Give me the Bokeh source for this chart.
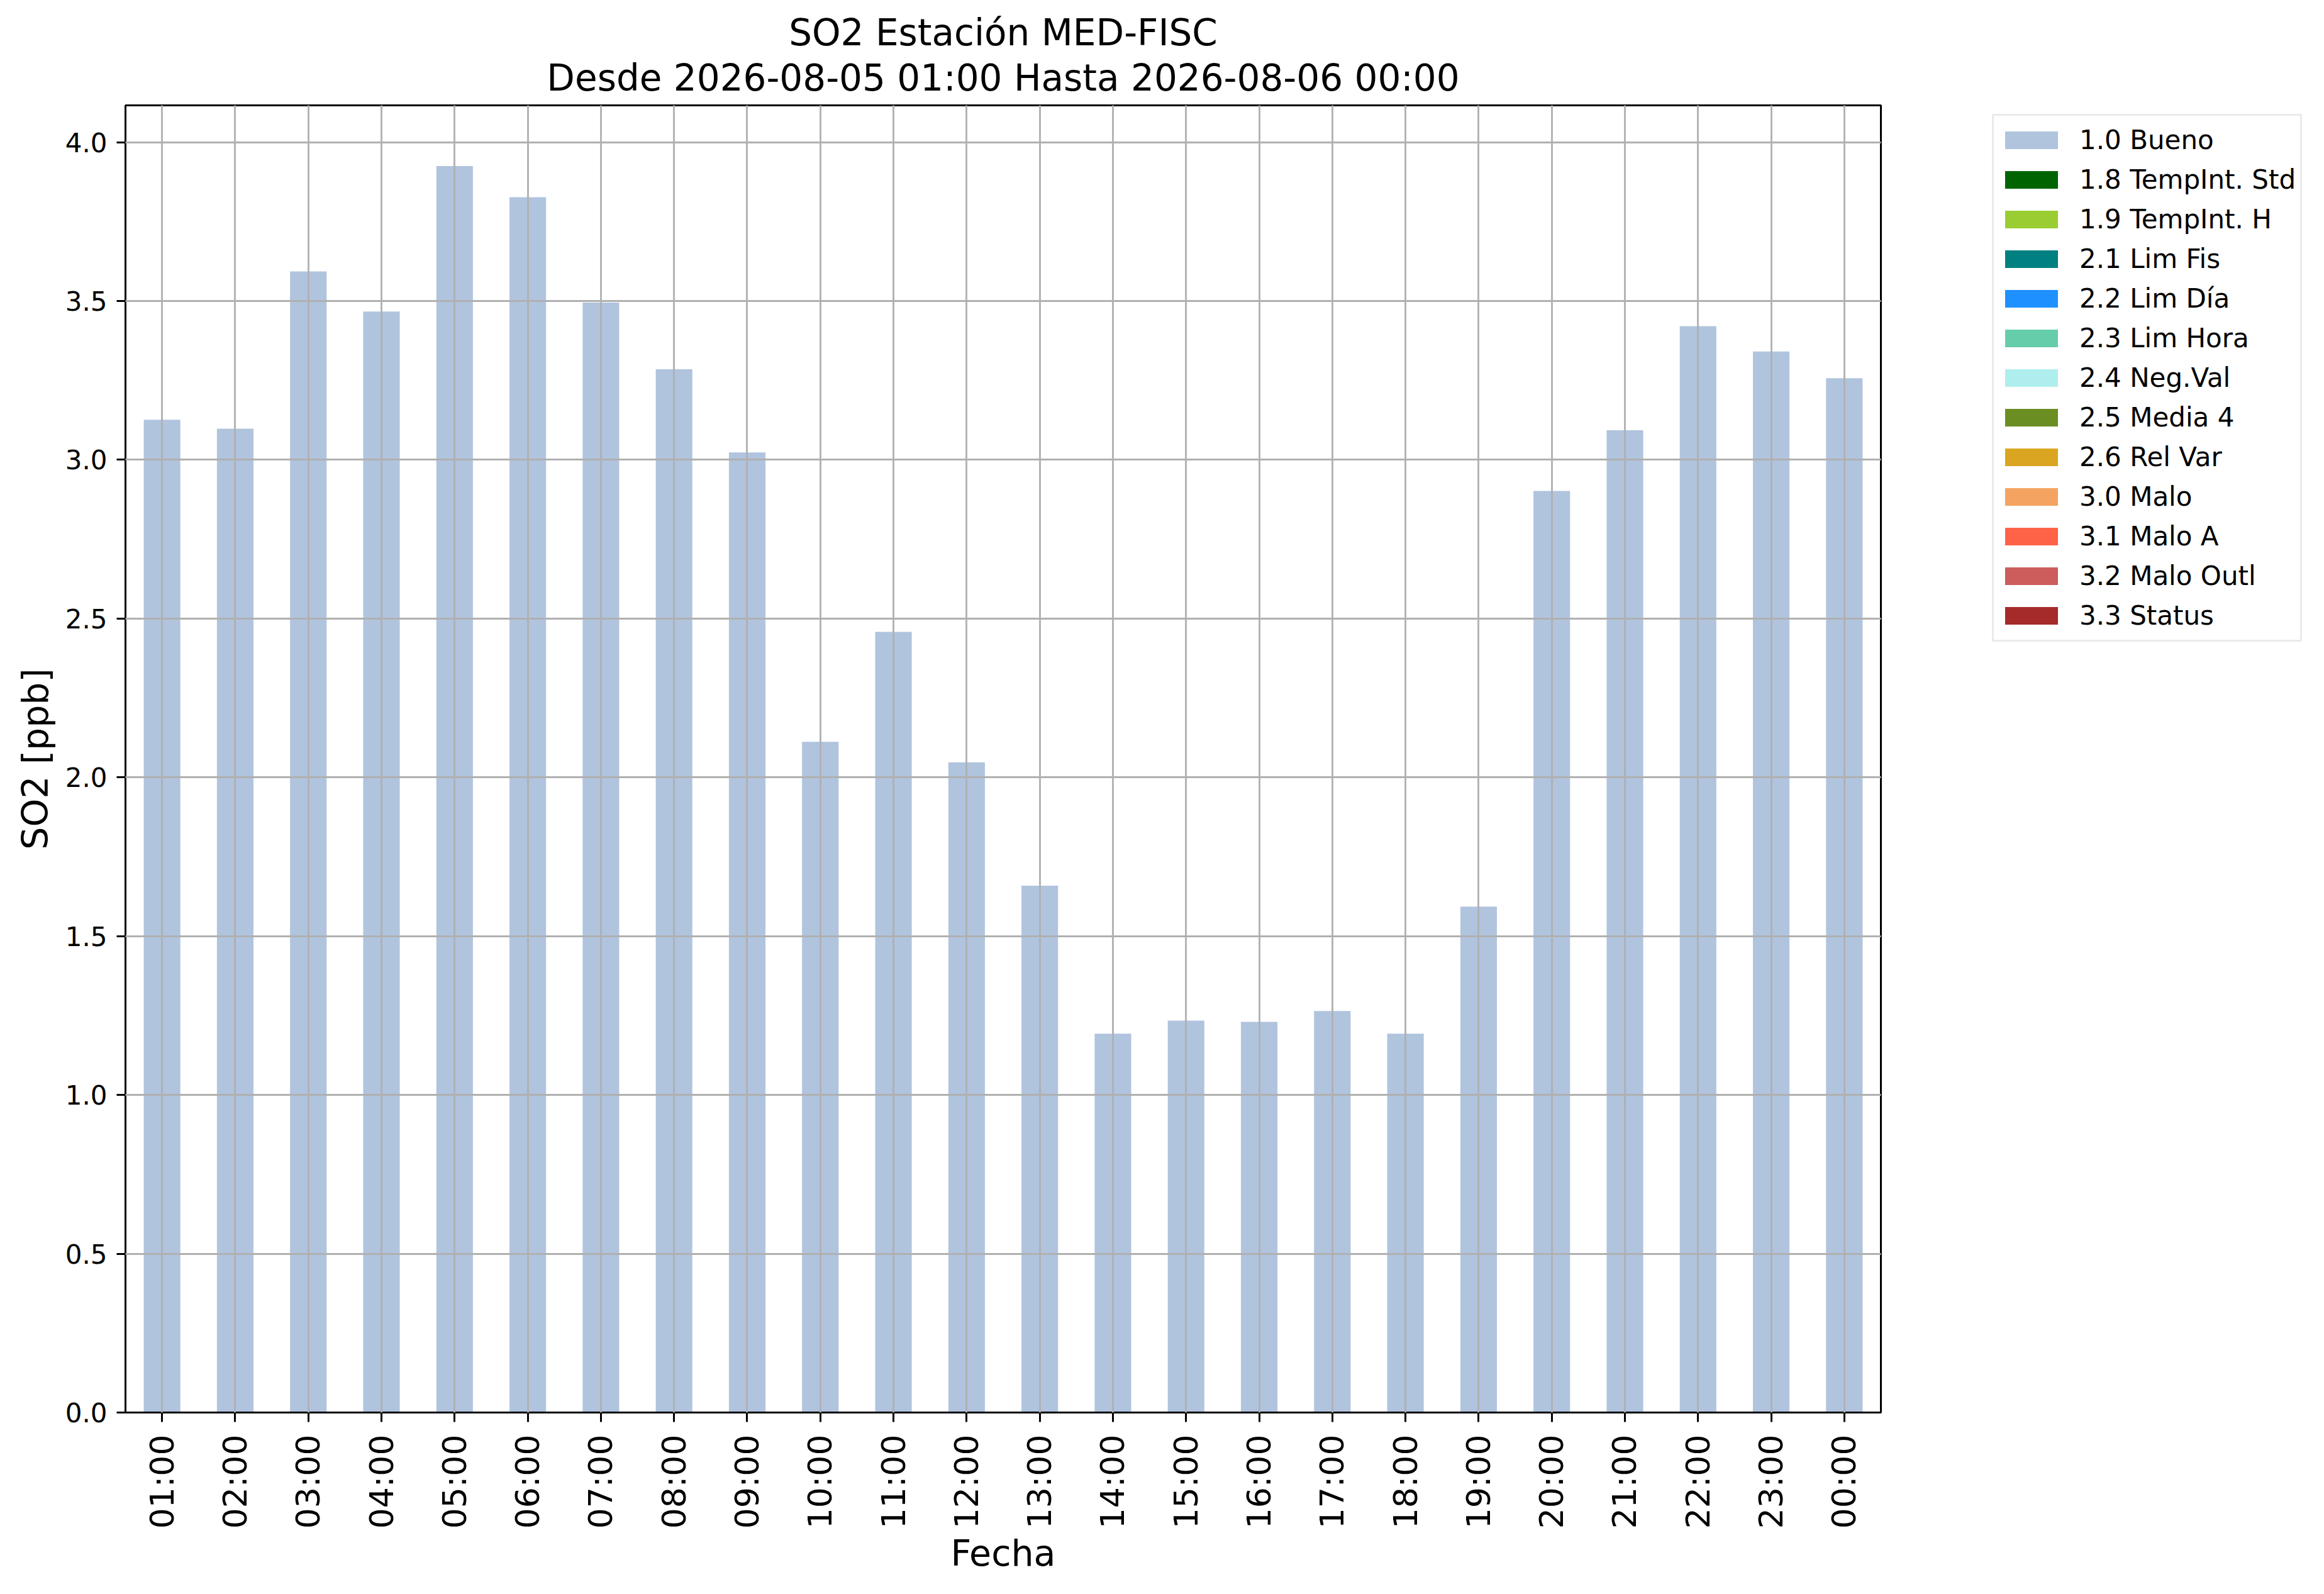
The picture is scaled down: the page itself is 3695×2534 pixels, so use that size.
from math import pi
from bokeh.plotting import figure
from bokeh.layouts import row
from bokeh.models import (FactorRange, Range1d, FixedTicker, PrintfTickFormatter,
                          Legend, LegendItem, Title, ColumnDataSource)
from bokeh.embed import file_html
from bokeh.resources import INLINE

hours = ["01:00", "02:00", "03:00", "04:00", "05:00", "06:00", "07:00", "08:00",
         "09:00", "10:00", "11:00", "12:00", "13:00", "14:00", "15:00", "16:00",
         "17:00", "18:00", "19:00", "20:00", "21:00", "22:00", "23:00", "00:00"]
so2 = [3.126, 3.098, 3.593, 3.467, 3.925, 3.827, 3.495, 3.285,
       3.023, 2.112, 2.458, 2.047, 1.659, 1.193, 1.234, 1.230,
       1.264, 1.193, 1.593, 2.902, 3.093, 3.421, 3.341, 3.257]
flags = ["1.0 Bueno"] * 24

categories = ["1.0 Bueno", "1.8 TempInt. Std", "1.9 TempInt. H", "2.1 Lim Fis",
              "2.2 Lim Día", "2.3 Lim Hora", "2.4 Neg.Val", "2.5 Media 4",
              "2.6 Rel Var", "3.0 Malo", "3.1 Malo A", "3.2 Malo Outl", "3.3 Status"]
colors = ["#B0C4DE", "#006400", "#9ACD32", "#008080", "#1E90FF", "#66CDAA",
          "#AFEEEE", "#6B8E23", "#DAA520", "#F4A460", "#FF6347", "#CD5C5C", "#A52A2A"]
yticks = [0.0, 0.5, 1.0, 1.5, 2.0, 2.5, 3.0, 3.5, 4.0]

FONT = "DejaVu Sans"
H = 2518

p = figure(width=3090, height=H, x_range=FactorRange(*hours),
           y_range=Range1d(0, 4.116), output_backend="svg", toolbar_location=None,
           min_border_left=199, min_border_right=100, min_border_top=167,
           min_border_bottom=273, title=None)

# legend-only figure placed to the right
q = figure(width=590, height=H, x_range=Range1d(0, 1), y_range=Range1d(0, 1),
           output_backend="svg", toolbar_location=None, min_border=0,
           title=None)
q.axis.visible = False
q.grid.visible = False
q.outline_line_color = None

items = []
for cat, col in zip(categories, colors):
    tops = [v if f == cat else 0.0 for v, f in zip(so2, flags)]
    src = ColumnDataSource(dict(x=hours, top=tops))
    p.vbar(x="x", top="top", bottom=0, width=0.5, source=src,
           fill_color=col, line_color=None)
    # zero-height proxy bar, only used to draw the legend swatch
    lr = q.vbar(x=[0.5], top=[0.0], bottom=0, width=0.01, fill_color=col,
                line_color=None)
    items.append(LegendItem(label=cat, renderers=[lr]))

# grids
for g in (p.xgrid, p.ygrid):
    g.grid_line_color = "#b0b0b0"
    g.grid_line_width = 2.8
    g.level = "guide"

p.outline_line_color = "black"
p.outline_line_width = 3

# axes
for ax in (p.xaxis, p.yaxis):
    ax.axis_line_color = "black"
    ax.axis_line_width = 3
    ax.major_tick_line_color = "black"
    ax.major_tick_line_width = 3
    ax.major_tick_in = 0
    ax.minor_tick_line_color = None
    ax.major_label_text_font = FONT
    ax.axis_label_text_font = FONT
    ax.axis_label_text_font_style = "normal"
    ax.axis_label_text_font_size = "57px"
    ax.axis_label_text_color = "black"
    ax.major_label_text_color = "black"

p.yaxis.ticker = FixedTicker(ticks=yticks)
p.yaxis.formatter = PrintfTickFormatter(format="%.1f")
p.yaxis.major_tick_out = 14
p.yaxis.major_label_text_font_size = "42px"
p.yaxis.major_label_standoff = 15
p.yaxis.axis_label = "SO2 [ppb]"
p.yaxis.axis_label_standoff = 12

p.xaxis.major_tick_out = 15
p.xaxis.major_label_text_font_size = "52px"
p.xaxis.major_label_orientation = pi / 2
p.xaxis.major_label_standoff = 20
p.xaxis.axis_label = "Fecha"
p.xaxis.axis_label_standoff = 3

# titles
t2 = Title(text="Desde 2026-08-05 01:00 Hasta 2026-08-06 00:00", align="center",
           text_font=FONT, text_font_size="58px", text_font_style="normal",
           text_color="black", standoff=19)
t1 = Title(text="SO2 Estación MED-FISC", align="center",
           text_font=FONT, text_font_size="58px", text_font_style="normal",
           text_color="black", standoff=-14)
p.add_layout(t2, "above")
p.add_layout(t1, "above")

legend = Legend(items=items, location=(77, 1225), margin=0, padding=7, spacing=0,
                label_height=63, glyph_height=35, glyph_width=105, label_standoff=24,
                label_text_font=FONT, label_text_font_size="42px",
                label_text_color="black",
                border_line_color="#d6d6d6", border_line_width=3,
                background_fill_color="white", background_fill_alpha=1.0)
q.add_layout(legend, "center")

layout = row(p, q)
open("out.html", "w").write(file_html(layout, INLINE))
